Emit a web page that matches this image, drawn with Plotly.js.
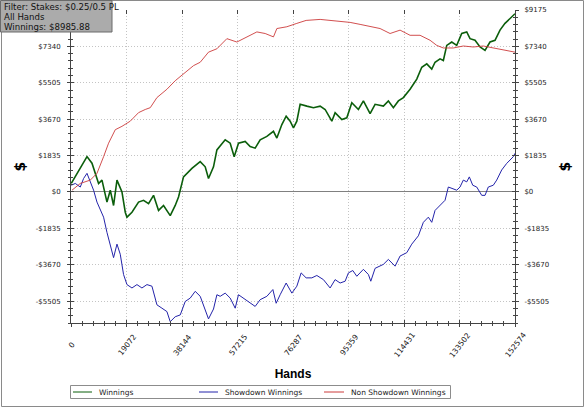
<!DOCTYPE html>
<html>
<head>
<meta charset="utf-8">
<script src="https://cdn.plot.ly/plotly-3.0.1.min.js"></script>
<style>html,body{margin:0;padding:0;background:#fff;}#chart{width:585px;height:408px;}</style>
</head>
<body>
<div id="chart"></div>
<script>
// ---- data ----
var winX = [100,5494,7211,8345,9478,10645,12362,13496,14629,15796,17513,18647,19230,20947,23214,24931,26648,28365,30082,31799,34099,35816,36950,38667,41551,44401,46118,47252,48969,50136,52986,54703,56077,57553,59854,61571,63288,65005,67306,69572,70740,72457,73934,75307,76440,77608,78741,81042,83309,85610,87327,89627,90761,93062,94779,96495,98762,100479,102779,104496,107347,109064,110781,112498,114215,116515,118816,120533,122250,123967,125101,126818,127951,129118,130835,132552,134269,135986,137120,138837,140554,142271,143988,145705,147422,149139,150856,151990,152574];
var winY = [430,1785,1450,950,430,600,-510,90,-680,600,0,-1020,-1270,-1020,-510,-420,-590,-170,-930,-680,-1190,-680,-250,760,1190,1530,1270,680,1270,2120,2630,2460,1780,2460,2550,2290,2210,2630,2800,3060,2720,3400,3820,3570,3230,3570,4420,4330,4250,4330,4160,3570,4000,3650,3740,4500,4160,4590,3950,4420,4330,4590,4250,4590,4760,5180,5690,6290,6460,6200,6540,6710,6630,7390,7560,7390,7990,8070,7730,7650,7310,7140,7560,7650,8160,8500,8750,8920,8986];

var sdX = [100,1477,3194,4327,5494,6628,7761,8928,10062,11195,12362,13496,14629,15796,16929,18063,19230,20947,22664,24381,26098,27815,29532,31249,32966,34099,35816,37533,39250,40967,42684,44401,46118,47252,48969,50136,51269,52986,54703,56420,57553,59854,61571,63288,65005,67306,69366,70499,71873,73934,75891,77608,79085,80803,82760,84477,86743,89043,90761,92478,94195,95328,96839,98213,100479,102196,103020,104496,107347,109064,111364,113081,115382,117099,119365,121082,122799,123967,125101,126818,128535,129668,131385,132552,133685,134819,135986,136879,138047,139420,141137,142271,143404,145121,146289,148006,149723,150856,151990,152574];
var sdY = [340,430,250,680,940,510,90,-510,-930,-1270,-2040,-2630,-3310,-2630,-3140,-4160,-4670,-4840,-4670,-4840,-4670,-4750,-5690,-5860,-6030,-6540,-6290,-6200,-5520,-5350,-5010,-5260,-5900,-6400,-5900,-5180,-5260,-5100,-5350,-5860,-5180,-5430,-5610,-5770,-5430,-5260,-4920,-5610,-5180,-4590,-5100,-4750,-4080,-4330,-4330,-4210,-4420,-4840,-4420,-4590,-4500,-4080,-3960,-4250,-3900,-4160,-4500,-3850,-3650,-3400,-3740,-3230,-3060,-2630,-2210,-1530,-1270,-1530,-930,-680,-420,250,170,90,250,600,510,760,340,250,-170,-170,250,340,600,1110,1440,1610,1780,1950];

var nsdX = [343,3194,6628,8928,11195,12912,15213,17513,20363,23214,25515,27232,29532,32966,35816,39250,42101,44401,47252,50136,53570,57004,60438,63872,66723,69572,70740,74174,77608,80803,85610,90761,95912,99346,102779,106213,109647,113081,116515,119949,123383,125684,127951,131385,134819,138253,141687,145121,148555,152574];
var nsdY = [90,430,600,940,1780,2460,3140,3310,3570,4000,4160,4250,4760,5180,5610,6030,6370,6540,7050,7220,7730,7560,7820,8070,7990,7820,8240,8330,8500,8650,8700,8620,8550,8450,8330,8240,7990,8160,7900,7900,7650,7390,7260,7260,7360,7310,7360,7260,7190,7050];

var seriesNames = ['Winnings','Showdown Winnings','Non Showdown Winnings'];
var xTickVals = [0,19072,38144,57215,76287,95359,114431,133502,152574];
var xTickText = ['0','19072','38144','57215','76287','95359','114431','133502','152574'];
var yTickVals = [-5505,-3670,-1835,0,1835,3670,5505,7340,9175];
var yTickText = ['-&#36;5505','-&#36;3670','-&#36;1835','&#36;0','&#36;1835','&#36;3670','&#36;5505','&#36;7340','&#36;9175'];
var xRange = [0,152574];
var yRange = [-6606,9175];
var filterLines = ['Filter: Stakes: &#36;0.25/0.5 PL','All Hands','Winnings: &#36;8985.88'];

// ---- styles ----
var seriesColors = ['#0b5e0b','#2323aa','#cc3b3b'];
var seriesWidths = [1.6,1,0.9];
var AX = '#444';

var allX = [winX, sdX, nsdX], allY = [winY, sdY, nsdY];
var traces = allX.map(function(xs, i){
  return {x:xs, y:allY[i], name:seriesNames[i], type:'scatter', mode:'lines',
          line:{color:seriesColors[i], width:seriesWidths[i]}, showlegend:false};
});
// empty carriers so that the overlay axes (crossing ticks, right axis, top ticks) get drawn
[['x2','y'],['x3','y'],['x','y2'],['x','y3'],['x','y4']].forEach(function(p){
  traces.push({x:[], y:[], xaxis:p[0], yaxis:p[1], type:'scatter', mode:'lines', showlegend:false, hoverinfo:'skip'});
});

function px2x(p){return (p-71)/444;}
function px2y(p){return (323-p)/313;}

var tickFont = {family:'DejaVu Sans', size:7, color:'#222'};
var xTickFont = {family:'DejaVu Sans', size:7.6, color:'#222'};
var yBase = {range:yRange, autorange:false, tickmode:'array', tickvals:yTickVals, ticktext:yTickText, fixedrange:true};
var minorY = {tickmode:'linear', tick0:0, dtick:367, ticklen:2, tickcolor:AX, showgrid:false};
var minorX = {tickmode:'linear', tick0:0, dtick:3814.35, ticklen:2, tickcolor:AX, showgrid:false};
var GRID = {showgrid:true, gridcolor:'#c4c4c4', griddash:'1px,2px', gridwidth:1};

var shapes = [
  {type:'rect', xref:'paper', yref:'paper', x0:px2x(1.5), x1:px2x(583.5), y0:px2y(406.5), y1:px2y(0.5),
   line:{color:'#8a8a8a', width:1}, fillcolor:'rgba(0,0,0,0)', layer:'below'},
  {type:'rect', xref:'paper', yref:'paper', x0:px2x(0.5), x1:px2x(112), y0:px2y(32), y1:px2y(0.5),
   line:{color:'#6a6a6a', width:1}, fillcolor:'#ababab', layer:'above'},
  // legend frame
  {type:'rect', xref:'paper', yref:'paper', x0:px2x(70.5), x1:px2x(450.5), y0:px2y(398.5), y1:px2y(385.5),
   line:{color:'#8c8c8c', width:1}, fillcolor:'#fff', layer:'below'}
];
var annotations = filterLines.map(function(t, i){
  return {xref:'paper', yref:'paper', x:px2x(3), y:px2y(7 + 10*i), xanchor:'left', yanchor:'middle', align:'left',
          showarrow:false, text:t, font:{family:'DejaVu Sans', size:8.6, color:'#111'}, borderpad:0};
});
// rotated x tick labels, centred under their ticks (as in the reference)
xTickVals.forEach(function(v, i){
  annotations.push({xref:'x', yref:'paper', x:v, y:px2y(345), xanchor:'center', yanchor:'middle',
                    showarrow:false, text:xTickText[i], textangle:-52, font:xTickFont, borderpad:0});
});
// hand-built legend
var legLineX = [73, 199, 324];
var legLen = [19, 19, 20];
seriesNames.forEach(function(n, i){
  shapes.push({type:'line', xref:'paper', yref:'paper', x0:px2x(legLineX[i]), x1:px2x(legLineX[i]+legLen[i]),
               y0:px2y(392), y1:px2y(392), line:{color:seriesColors[i], width:1}});
  annotations.push({xref:'paper', yref:'paper', x:px2x(legLineX[i]+legLen[i]+6), y:px2y(392), xanchor:'left', yanchor:'middle',
                    showarrow:false, text:n, font:{family:'DejaVu Sans', size:7.5, color:'#222'}, borderpad:0});
});

var layout = {
  width:585, height:408,
  margin:{l:71, r:70, t:10, b:85, autoexpand:false},
  paper_bgcolor:'#fff', plot_bgcolor:'#fff',
  font:tickFont,
  showlegend:false,
  xaxis:Object.assign({range:xRange, autorange:false, tickmode:'array', tickvals:xTickVals, ticktext:xTickText,
         ticks:'outside', ticklen:3, tickcolor:AX, showticklabels:false,
         showline:true, linecolor:AX, linewidth:1, zeroline:false, fixedrange:true,
         minor:Object.assign({ticks:'outside'}, minorX),
         title:{text:'<b>Hands</b>', font:{family:'Liberation Sans', size:12, color:'#000'}, standoff:43}}, GRID),
  xaxis2:{overlaying:'x', side:'bottom', anchor:'y', range:xRange, autorange:false, tickmode:'array', tickvals:xTickVals,
          ticks:'inside', ticklen:3, tickcolor:AX, showticklabels:false, showgrid:false, showline:false, zeroline:false,
          minor:Object.assign({ticks:'inside'}, minorX)},
  xaxis3:{overlaying:'x', side:'top', anchor:'y', range:xRange, autorange:false, tickmode:'array', tickvals:xTickVals,
          ticks:'inside', ticklen:4, tickcolor:AX, showticklabels:false, showgrid:false, showline:false, zeroline:false},
  yaxis:Object.assign({}, yBase, GRID, {side:'left', ticks:'outside', ticklen:3, tickcolor:AX, tickfont:tickFont,
          showline:true, linecolor:AX, linewidth:1,
          zeroline:true, zerolinecolor:'#808080', zerolinewidth:1, ticklabelstandoff:5,
          minor:Object.assign({ticks:'outside'}, minorY),
          title:{text:'<b>$</b>', font:{family:'DejaVu Sans', size:14, color:'#000'}, standoff:6}}),
  yaxis2:Object.assign({}, yBase, {overlaying:'y', side:'left', anchor:'x', ticks:'inside', ticklen:3, tickcolor:AX,
          showticklabels:false, showgrid:false, showline:false, zeroline:false,
          minor:Object.assign({ticks:'inside'}, minorY)}),
  yaxis3:Object.assign({}, yBase, {overlaying:'y', side:'right', anchor:'x', ticks:'outside', ticklen:3, tickcolor:AX, tickfont:tickFont,
          showline:true, linecolor:AX, linewidth:1, showgrid:false, zeroline:false, ticklabelstandoff:4,
          minor:Object.assign({ticks:'outside'}, minorY),
          title:{text:'<b>$</b>', font:{family:'DejaVu Sans', size:14, color:'#000'}, standoff:12}}),
  yaxis4:Object.assign({}, yBase, {overlaying:'y', side:'right', anchor:'x', ticks:'inside', ticklen:3, tickcolor:AX,
          showticklabels:false, showgrid:false, showline:false, zeroline:false,
          minor:Object.assign({ticks:'inside'}, minorY)}),
  shapes:shapes,
  annotations:annotations
};

Plotly.newPlot('chart', traces, layout, {displayModeBar:false, staticPlot:true});
</script>
</body>
</html>
